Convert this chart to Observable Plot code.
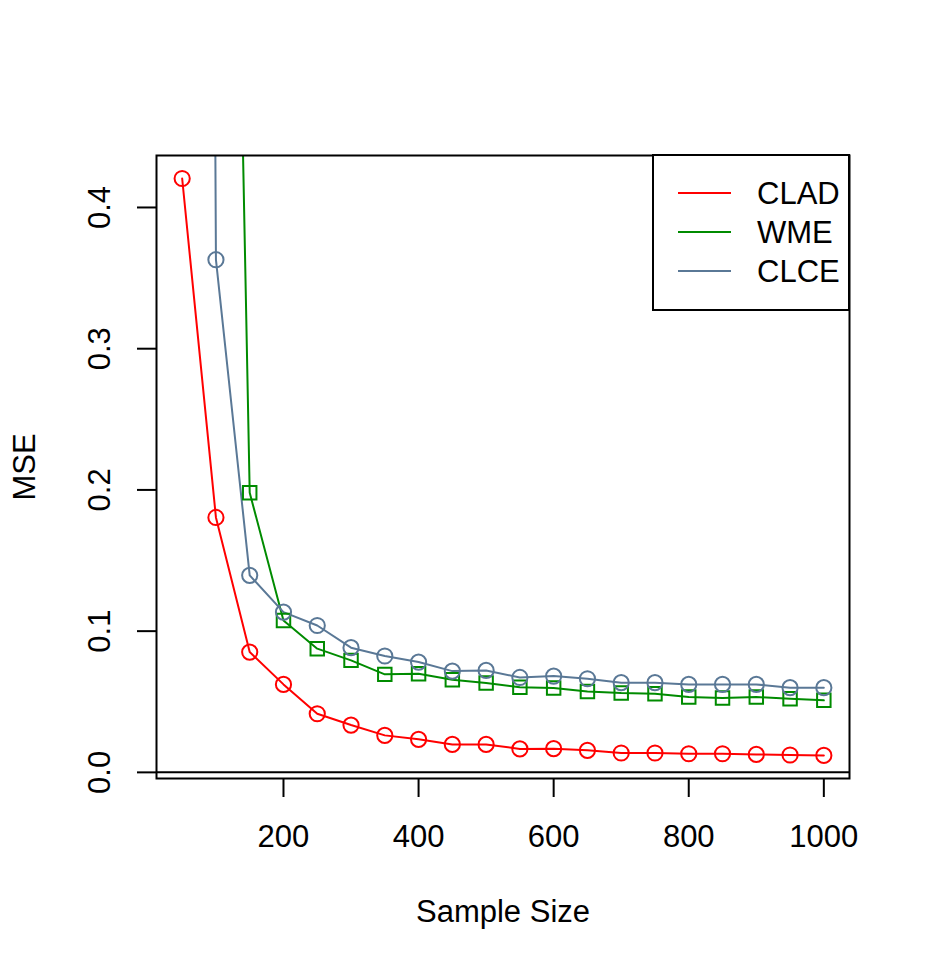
<!DOCTYPE html>
<html>
<head>
<meta charset="utf-8">
<script src="https://cdn.jsdelivr.net/npm/d3@7"></script>
<script src="https://cdn.jsdelivr.net/npm/@observablehq/plot@0.6"></script>
<style>
  html, body { margin: 0; padding: 0; background: #fff; }
  #chart { width: 927px; height: 972px; }
</style>
</head>
<body>
<div id="chart"></div>
<script>
// Data
const sampleSizes = [50, 100, 150, 200, 250, 300, 350, 400, 450, 500, 550, 600, 650, 700, 750, 800, 850, 900, 950, 1000];
const clad = [0.4205, 0.1805, 0.0852, 0.0623, 0.0415, 0.0335, 0.0262, 0.0234, 0.0198, 0.0198, 0.0166, 0.0168, 0.0156, 0.0137, 0.0137, 0.0132, 0.0132, 0.0127, 0.0123, 0.0120];
const wme  = [2.50, 1.41, 0.198, 0.1076, 0.0876, 0.0793, 0.0694, 0.0699, 0.0656, 0.0633, 0.0602, 0.0597, 0.0573, 0.0562, 0.0557, 0.0533, 0.0526, 0.0533, 0.0522, 0.0510];
const clce = [4.80, 0.363, 0.1395, 0.1135, 0.1040, 0.0883, 0.0824, 0.0781, 0.0717, 0.0722, 0.0672, 0.0682, 0.0663, 0.0635, 0.0635, 0.0623, 0.0623, 0.0623, 0.0600, 0.0600];
const seriesNames = ["CLAD", "WME", "CLCE"];
const seriesColors = ["#FF0000", "#008B00", "#5A7896"];
const seriesSymbols = ["circle", "square", "circle"];
const xTicks = [200, 400, 600, 800, 1000];
const yTicks = [0.0, 0.1, 0.2, 0.3, 0.4];
const xLabel = "Sample Size";
const yLabel = "MSE";

const seriesValues = [clad, wme, clce];
const rows = [];
seriesNames.forEach((name, i) => {
  sampleSizes.forEach((n, j) => rows.push({series: name, n, mse: seriesValues[i][j]}));
});

const FONT = "'Liberation Sans', Arial, Helvetica, sans-serif";
const FS = 31;

// Legend drawn as a custom mark (top-right of plot frame)
function legendMark(index, scales, values, dim) {
  const right = dim.width - dim.marginRight;
  const top = dim.marginTop;
  const g = d3.create("svg:g");
  const boxW = 196, boxH = 155;
  g.append("rect")
    .attr("x", right - boxW).attr("y", top)
    .attr("width", boxW).attr("height", boxH)
    .attr("fill", "white").attr("stroke", "black").attr("stroke-width", 2);
  seriesNames.forEach((name, i) => {
    const y = top + 38 + i * 39;
    g.append("line")
      .attr("x1", right - 171).attr("x2", right - 118)
      .attr("y1", y).attr("y2", y)
      .attr("stroke", seriesColors[i]).attr("stroke-width", 2);
    g.append("text")
      .attr("x", right - 92).attr("y", y).attr("dy", "0.36em")
      .attr("text-anchor", "start")
      .attr("font-size", FS).attr("font-family", FONT)
      .attr("fill", "black")
      .text(name);
  });
  return g.node();
}

const chart = Plot.plot({
  width: 927,
  height: 972,
  marginLeft: 156,
  marginRight: 78,
  marginTop: 155,
  marginBottom: 194,
  style: {fontFamily: FONT, fontSize: FS + "px", background: "white"},
  x: {domain: [12, 1038], axis: null, label: null},
  y: {domain: [-0.00434, 0.4368], axis: null, label: null},
  color: {domain: seriesNames, range: seriesColors},
  symbol: {domain: seriesNames, range: seriesSymbols},
  marks: [
    Plot.ruleY([0], {stroke: "black", strokeWidth: 2}),
    Plot.line(rows, {x: "n", y: "mse", z: "series", stroke: "series", strokeWidth: 2, clip: true}),
    Plot.dot(rows, {x: "n", y: "mse", stroke: "series", symbol: "series", r: 7.6, strokeWidth: 2, fill: "none", clip: true}),
    Plot.frame({stroke: "black", strokeWidth: 2}),
    // ticks
    Plot.axisX(xTicks, {tickSize: 19, text: null, strokeWidth: 2, anchor: "bottom", label: null}),
    Plot.axisY(yTicks, {tickSize: 19, text: null, strokeWidth: 2, anchor: "left", label: null}),
    // tick labels
    Plot.text(xTicks, {x: d => d, frameAnchor: "bottom", dy: 59, text: d => String(d), fontSize: FS, lineAnchor: "middle", fill: "black"}),
    Plot.text(yTicks, {y: d => d, frameAnchor: "left", dx: -56, rotate: -90, text: d => d.toFixed(1), fontSize: FS, lineAnchor: "middle", textAnchor: "middle", fill: "black"}),
    // axis titles
    Plot.text([xLabel], {frameAnchor: "bottom", dy: 134, text: d => d, fontSize: FS, lineAnchor: "middle", fill: "black"}),
    Plot.text([yLabel], {frameAnchor: "left", dx: -131, rotate: -90, text: d => d, fontSize: FS, lineAnchor: "middle", textAnchor: "middle", fill: "black"}),
    legendMark
  ]
});
document.getElementById("chart").appendChild(chart);
</script>
</body>
</html>
